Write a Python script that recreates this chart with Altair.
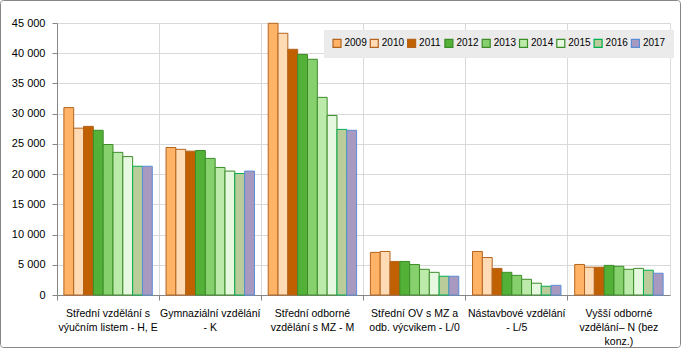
import altair as alt
import pandas as pd

categories = [
    "Střední vzdělání s|výučním listem - H, E",
    "Gymnaziální vzdělání|- K",
    "Střední odborné|vzdělání s MZ - M",
    "Střední OV s MZ a|odb. výcvikem - L/0",
    "Nástavbové vzdělání|- L/5",
    "Vyšší odborné|vzdělání– N (bez|konz.)",
]
years = ["2009", "2010", "2011", "2012", "2013", "2014", "2015", "2016", "2017"]

v2009 = [31000, 24400, 44950, 7050, 7200, 5050]
v2010 = [27600, 24100, 43300, 7200, 6200, 4600]
v2011 = [27900, 23800, 40650, 5550, 4400, 4600]
v2012 = [27250, 23900, 39800, 5550, 3750, 4900]
v2013 = [24900, 22600, 39000, 5050, 3250, 4750]
v2014 = [23600, 21100, 32700, 4250, 2600, 4250]
v2015 = [22900, 20500, 29700, 3750, 1950, 4400]
v2016 = [21300, 20100, 27400, 3100, 1450, 4100]
v2017 = [21300, 20500, 27250, 3100, 1600, 3600]
series = [v2009, v2010, v2011, v2012, v2013, v2014, v2015, v2016, v2017]

fills = ["#FFB366", "#FFDBB5", "#C06000", "#53B137", "#86D06E",
         "#BBEAAA", "#E6F8E0", "#BACC9A", "#A899C0"]
strokes = ["#B4641E", "#B4641E", "#B4641E", "#3C8C28", "#3C8C28",
           "#3C8C28", "#3C8C28", "#00B050", "#5B8DD6"]

rows = []
for y, vals in zip(years, series):
    for c, v in zip(categories, vals):
        rows.append({"cat": c, "year": y, "value": v})
df = pd.DataFrame(rows)

FONT = "Liberation Sans"
W, H = 613, 272

bars = alt.Chart(df).mark_bar(strokeWidth=1).encode(
    x=alt.X("cat:N", sort=categories,
            scale=alt.Scale(paddingInner=0, paddingOuter=0),
            axis=alt.Axis(title=None, labelAngle=0, bandPosition=0,
                          labelExpr="split(datum.label, '|')",
                          labelFont=FONT, labelFontSize=10.5, labelColor="#000000",
                          labelPadding=8, labelLineHeight=14, labelBaseline="top",
                          domainColor="#868686", tickColor="#868686", tickSize=5,
                          grid=True, gridColor="#d9d9d9", labelLimit=200)),
    xOffset=alt.XOffset("year:N", sort=years,
                        scale=alt.Scale(paddingInner=0, paddingOuter=0.7)),
    y=alt.Y("value:Q",
            scale=alt.Scale(domain=[0, 45000], nice=False),
            axis=alt.Axis(title=None, values=list(range(0, 45001, 5000)),
                          labelExpr="replace(format(datum.value, ','), ',', ' ')",
                          labelFont=FONT, labelFontSize=11, labelColor="#000000",
                          labelPadding=7, domainColor="#868686", tickColor="#868686",
                          tickSize=5, gridColor="#d9d9d9")),
    fill=alt.Fill("year:N", sort=years,
                  scale=alt.Scale(domain=years, range=fills),
                  legend=alt.Legend(title=None, orient="none", legendX=267, legendY=7,
                                    direction="horizontal", columns=9,
                                    fillColor="#EBEBEB", padding=8,
                                    symbolType="square", symbolSize=64,
                                    symbolStrokeWidth=1.2,
                                    labelFont=FONT, labelFontSize=10,
                                    labelColor="#000000", labelOffset=2.5,
                                    columnPadding=0.3)),
    stroke=alt.Stroke("year:N", sort=years,
                      scale=alt.Scale(domain=years, range=strokes)),
)

border = alt.Chart(pd.DataFrame({"a": [0]})).mark_rect(
    fill=None, stroke="#868686", strokeWidth=1, cornerRadius=3
).encode(
    x=alt.value(-56.5), x2=alt.value(W + 10.5),
    y=alt.value(-22.5), y2=alt.value(H + 52.5),
)

chart = alt.layer(bars, border).properties(
    width=W, height=H,
    autosize=alt.AutoSizeParams(type="none"),
    padding={"left": 57, "top": 23, "right": 11, "bottom": 53},
).configure_view(stroke="#d9d9d9").configure(background="white")

chart.save("out.html", embed_options={"renderer": "svg", "actions": False})
